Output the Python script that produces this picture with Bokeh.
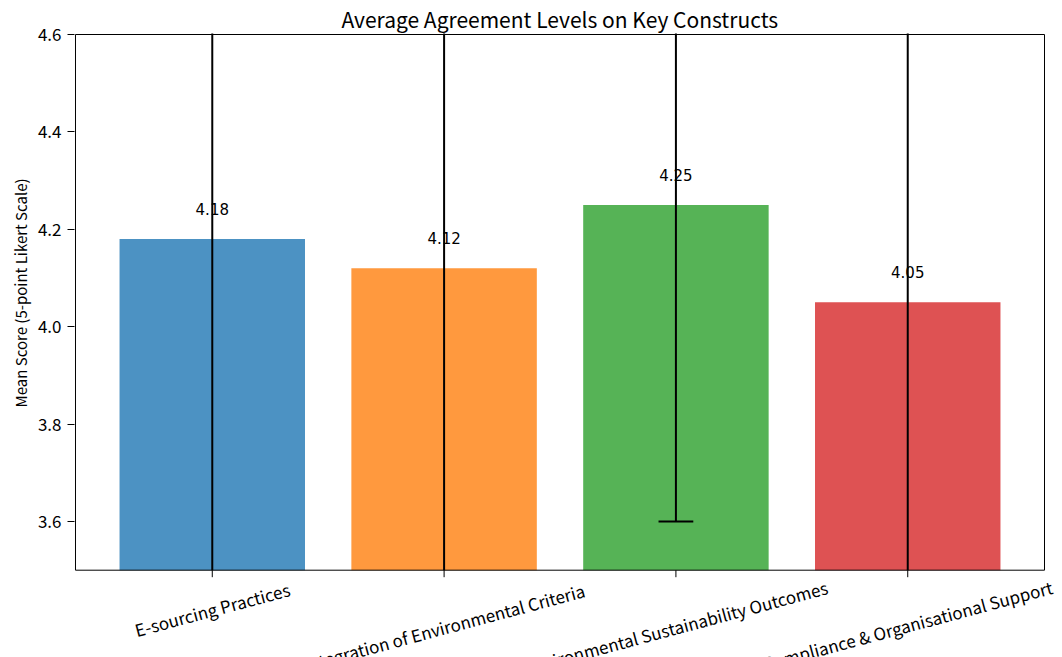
import math
from bokeh.plotting import figure
from bokeh.models import Range1d, FixedTicker, NumeralTickFormatter, ColumnDataSource, Title
from bokeh.core.properties import value
from bokeh.embed import file_html
from bokeh.resources import INLINE

categories = ["E-sourcing Practices", "Integration of Environmental Criteria",
              "Environmental Sustainability Outcomes", "Compliance & Organisational Support"]
means = [4.18, 4.12, 4.25, 4.05]
stds = [0.72, 0.74, 0.65, 0.70]
colors = ["#1f77b4", "#ff7f0e", "#2ca02c", "#d62728"]
y_ticks = [3.6, 3.8, 4.0, 4.2, 4.4, 4.6]
y_lo, y_hi = 3.5, 4.6
x_lo, x_hi = -0.59, 3.59
y_label = "Mean Score (5-point Likert Scale)"

FONT = "Noto Sans CJK SC"
VFONT = "DejaVu Sans"
xs = list(range(len(categories)))

# layout constants (pixels)
PXY = 487.0   # px per y unit
PXX = 232.0   # px per x unit
W, H = 1062, 657
top_px = 34          # pixel of y_hi
frame_top = top_px - 1
frame_left = 74      # one px left of the left spine
right_spine_px = 1044
title_left_px = 341
ylabel_bottom_px = 407

y_end = y_hi + 1 / PXY
y_start = y_hi - (H - top_px) / PXY
x_start = x_lo - 1 / PXX
x_end = x_hi + (W - right_spine_px) / PXX

p = figure(width=W, height=H, output_backend="svg", toolbar_location=None,
           x_range=Range1d(x_start, x_end), y_range=Range1d(y_start, y_end),
           min_border_left=frame_left, min_border_right=0,
           min_border_top=frame_top, min_border_bottom=0,
           title="Average Agreement Levels on Key Constructs")
p.title.align = "left"
p.title.offset = title_left_px - frame_left
p.title.text_font = FONT
p.title.text_font_size = "21px"
p.title.text_font_style = "normal"
p.title.text_color = "black"
p.title.standoff = 0

src = ColumnDataSource(dict(x=xs, top=means, color=colors,
                            lo=[max(m - s, y_lo) for m, s in zip(means, stds)],
                            hi=[m + s for m, s in zip(means, stds)],
                            lbl=[f"{m:.2f}" for m in means],
                            ly=[m + 0.05 for m in means]))

p.vbar(x="x", top="top", bottom=y_lo, width=0.8, fill_color="color", fill_alpha=0.8,
       line_color=None, source=src)
p.segment(x0="x", x1="x", y0="lo", y1="hi", line_color="black", line_width=2, source=src)
cap = 0.075
cap_x = [x for x, m, s in zip(xs, means, stds) if m - s >= y_lo]
cap_y = [m - s for m, s in zip(means, stds) if m - s >= y_lo]
p.segment(x0=[x - cap for x in cap_x], x1=[x + cap for x in cap_x],
          y0=cap_y, y1=cap_y, line_color="black", line_width=2)
hi_x = [x for x, m, s in zip(xs, means, stds) if m + s <= y_hi]
hi_y = [m + s for m, s in zip(means, stds) if m + s <= y_hi]
p.segment(x0=[x - cap for x in hi_x], x1=[x + cap for x in hi_x],
          y0=hi_y, y1=hi_y, line_color="black", line_width=2)
p.text(x="x", y="ly", text="lbl", source=src, text_align="center", text_baseline="bottom",
       text_font=value(VFONT), text_font_size="15px", text_color="black")

# spines
p.segment(x0=[x_lo, x_hi, x_lo, x_lo], x1=[x_lo, x_hi, x_hi, x_hi],
          y0=[y_lo, y_lo, y_lo, y_hi], y1=[y_hi, y_hi, y_lo, y_hi],
          line_color="black", line_width=1)
# x ticks
tick_len = 7 / PXY
p.segment(x0=xs, x1=xs, y0=[y_lo] * len(xs), y1=[y_lo - tick_len] * len(xs),
          line_color="black", line_width=1)

# rotated category labels (centered rotation like matplotlib)
ang = math.radians(15)
LBL_PX = 17
char_w = 0.477 * LBL_PX
lab_y = []
for c in categories:
    w = len(c) * char_w
    h = LBL_PX * 1.1
    dy = 9 + (w * math.sin(ang) + h * math.cos(ang)) / 2
    lab_y.append(y_lo - dy / PXY)
p.text(x=xs, y=lab_y, text=categories, angle=ang, text_align="center", text_baseline="middle",
       text_font=value(FONT), text_font_size=f"{LBL_PX}px", text_color="black")

p.xgrid.visible = False
p.ygrid.visible = False
p.outline_line_color = None
p.xaxis.visible = False

yax = p.yaxis[0]
yax.ticker = FixedTicker(ticks=y_ticks)
yax.formatter = NumeralTickFormatter(format="0.0")
yax.minor_tick_line_color = None
yax.major_tick_in = 0
yax.major_tick_out = 7
yax.major_tick_line_color = "black"
yax.major_label_standoff = 6
yax.major_label_text_font = FONT
yax.major_label_text_font_size = "17px"
yax.major_label_text_color = "black"
yax.axis_line_color = None

# y axis label as a side title so it can be positioned along the axis
ytitle = Title(text=y_label, align="left", offset=H - ylabel_bottom_px,
               text_font=FONT, text_font_size="15px", text_font_style="normal",
               text_color="black", standoff=8)
p.add_layout(ytitle, "left")

open("out.html", "w").write(file_html(p, INLINE))
